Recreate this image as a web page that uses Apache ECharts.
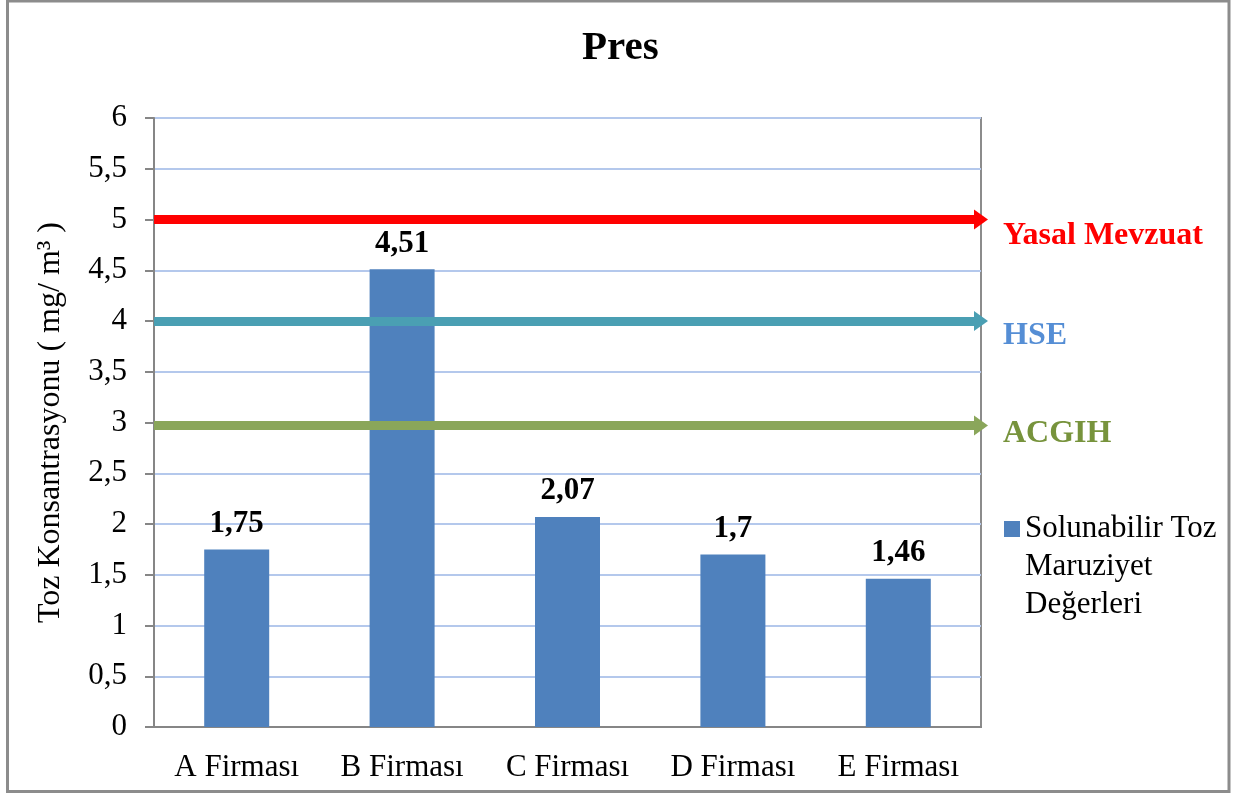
<!DOCTYPE html>
<html>
<head>
<meta charset="utf-8">
<script src="https://cdn.jsdelivr.net/npm/echarts@6/dist/echarts.min.js"></script>
<style>html,body{margin:0;padding:0;background:#fff}#c{width:1247px;height:793px}</style>
</head>
<body>
<div id="c"></div>
<script>
const categories = ['A Firması', 'B Firması', 'C Firması', 'D Firması', 'E Firması'];
const values = [1.75, 4.51, 2.07, 1.7, 1.46];
const seriesName = 'Solunabilir Toz';
const seriesNameLines = ['Solunabilir Toz', 'Maruziyet', 'Değerleri'];
const limitNames = ['Yasal Mevzuat', 'HSE', 'ACGIH'];
const limitValues = [5, 4, 2.97];
const limitLineColors = ['#ff0000', '#4a9fb3', '#8aa65a'];
const limitTextColors = ['#ff0000', '#558ed5', '#77933c'];

const FONT = '"Liberation Serif", "Times New Roman", serif';
const comma = v => String(v).replace('.', ',');
const labelShift = [32, 30, 16];

const chart = echarts.init(document.getElementById('c'), null, {renderer: 'canvas'});
chart.setOption({
  backgroundColor: '#fff',
  animation: false,
  title: {
    text: 'Pres', left: 577, top: 23,
    textStyle: {fontFamily: FONT, fontSize: 41, fontWeight: 'bold', color: '#000'}
  },
  grid: {left: 154, right: 266, top: 118, bottom: 66, show: true, borderColor: '#8c8c8c', borderWidth: 2, backgroundColor: 'transparent'},
  legend: {
    left: 1004, top: 467, padding: 0, orient: 'vertical',
    itemWidth: 16, itemHeight: 16, icon: 'rect',
    data: [seriesName],
    formatter: () => '{s| }\n' + seriesNameLines.map(l => '{t|' + l + '}').join('\n'),
    textStyle: {
      fontFamily: FONT, fontSize: 31, color: '#000',
      rich: {
        s: {lineHeight: 76, fontSize: 10},
        t: {lineHeight: 38, fontSize: 31, fontFamily: FONT, color: '#000'}
      }
    }
  },
  xAxis: {
    type: 'category', data: categories,
    axisLine: {lineStyle: {color: '#868686', width: 2}},
    axisTick: {show: false},
    axisLabel: {fontFamily: FONT, fontSize: 31, color: '#000', margin: 25}
  },
  yAxis: {
    type: 'value', min: 0, max: 6, interval: 0.5,
    name: 'Toz Konsantrasyonu ( mg/ m³ )', nameLocation: 'middle', nameGap: 87,
    nameTextStyle: {fontFamily: FONT, fontSize: 32, color: '#000'},
    axisLine: {show: true, lineStyle: {color: '#868686', width: 2}},
    axisTick: {show: true, length: 9, lineStyle: {color: '#868686', width: 2}},
    axisLabel: {fontFamily: FONT, fontSize: 31, color: '#000', margin: 27, formatter: comma},
    splitLine: {lineStyle: {color: '#b4c8ec', width: 2}}
  },
  series: [{
    name: seriesName, type: 'bar', data: values, barWidth: 65,
    itemStyle: {color: '#4f81bd'},
    label: {show: true, position: 'top', distance: 10, fontFamily: FONT, fontSize: 31, fontWeight: 'bold', color: '#000', formatter: p => comma(p.value)},
    markLine: {
      silent: true, symbol: ['none', 'triangle'], symbolSize: [20, 14], symbolOffset: [-6, 0],
      data: limitValues.map((v, i) => ({
        yAxis: v,
        lineStyle: {color: limitLineColors[i], width: 9, type: 'solid'},
        itemStyle: {color: limitLineColors[i]},
        label: {show: true, position: 'end', distance: 22,
          formatter: '{s| }\n{t|' + limitNames[i] + '}',
          rich: {
            s: {lineHeight: labelShift[i], fontSize: 8},
            t: {lineHeight: 32, fontFamily: FONT, fontSize: 32, fontWeight: 'bold', color: limitTextColors[i]}
          }
        }
      }))
    }
  }],
  graphic: [{
    type: 'rect', shape: {x: 7.5, y: 1, width: 1221.5, height: 790.5},
    style: {fill: 'none', stroke: '#8c8c8c', lineWidth: 3}, silent: true, z: 100
  }]
});
</script>
</body>
</html>
